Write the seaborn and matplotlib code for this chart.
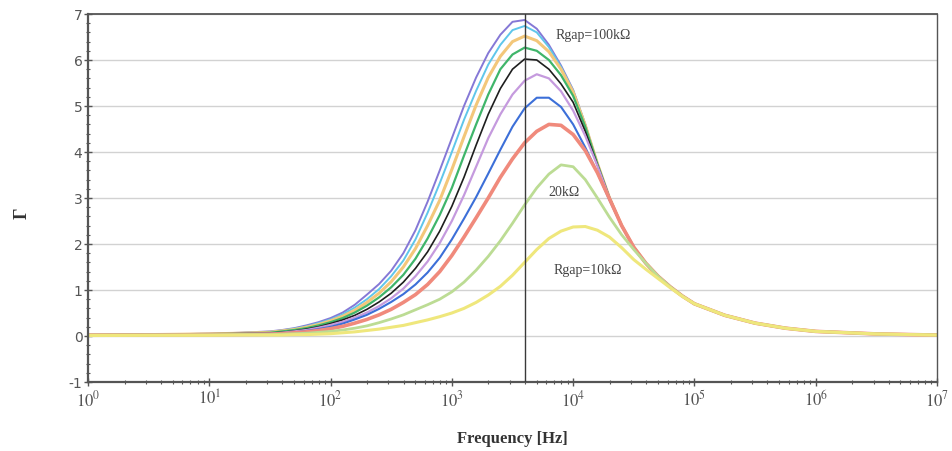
import matplotlib
matplotlib.use("Agg")
import matplotlib.pyplot as plt
import pandas as pd
import seaborn as sns
from matplotlib.ticker import FixedLocator, LogLocator, MultipleLocator, NullFormatter, FixedFormatter

# ---------------- data ----------------
freq_hz = [1, 3.162, 10, 17.78,
           31.62, 39.81, 50.12, 63.10, 79.43, 100, 125.9, 158.5, 199.5, 251.2,
           316.2, 398.1, 501.2, 631.0, 794.3, 1000, 1259, 1585, 1995, 2512,
           3162, 3981, 5012, 6310, 7943, 10000, 12589, 15849, 19953, 25119,
           31623, 39811, 50119, 63096, 79433, 100000,
           177828, 316228, 562341, 1000000, 3162278, 10000000]

rgap_labels = ["100kΩ", "90kΩ", "80kΩ", "70kΩ", "60kΩ", "50kΩ", "40kΩ", "30kΩ", "20kΩ", "10kΩ"]

gamma_100k = [0.02, 0.03, 0.05, 0.07,
              0.10, 0.13, 0.17, 0.23, 0.30, 0.39, 0.51, 0.68, 0.90, 1.13,
              1.42, 1.80, 2.30, 2.92, 3.60, 4.30, 5.00, 5.62, 6.15, 6.55,
              6.83, 6.87, 6.68, 6.33, 5.88, 5.35, 4.60, 3.75, 3.00, 2.40,
              1.93, 1.58, 1.30, 1.07, 0.87, 0.70,
              0.45, 0.28, 0.17, 0.10, 0.045, 0.02]
gamma_90k = [0.02, 0.03, 0.05, 0.065,
             0.09, 0.12, 0.16, 0.21, 0.28, 0.36, 0.47, 0.62, 0.80, 1.02,
             1.30, 1.64, 2.10, 2.68, 3.32, 4.00, 4.70, 5.33, 5.90, 6.33,
             6.65, 6.74, 6.60, 6.28, 5.85, 5.33, 4.60, 3.75, 3.00, 2.40,
             1.93, 1.58, 1.30, 1.07, 0.87, 0.70,
             0.45, 0.28, 0.17, 0.10, 0.045, 0.02]
gamma_80k = [0.02, 0.03, 0.045, 0.06,
             0.08, 0.11, 0.14, 0.19, 0.25, 0.33, 0.43, 0.56, 0.73, 0.93,
             1.18, 1.50, 1.90, 2.40, 2.95, 3.62, 4.33, 5.02, 5.62, 6.08,
             6.40, 6.52, 6.42, 6.18, 5.80, 5.30, 4.58, 3.75, 3.00, 2.40,
             1.93, 1.58, 1.30, 1.07, 0.87, 0.70,
             0.45, 0.28, 0.17, 0.10, 0.045, 0.02]
gamma_70k = [0.02, 0.03, 0.04, 0.055,
             0.07, 0.10, 0.13, 0.17, 0.23, 0.30, 0.39, 0.51, 0.66, 0.84,
             1.06, 1.33, 1.68, 2.12, 2.63, 3.22, 3.92, 4.60, 5.25, 5.80,
             6.12, 6.27, 6.20, 6.00, 5.67, 5.22, 4.55, 3.74, 3.00, 2.40,
             1.93, 1.58, 1.30, 1.07, 0.87, 0.70,
             0.45, 0.28, 0.17, 0.10, 0.045, 0.02]
gamma_60k = [0.02, 0.025, 0.04, 0.05,
             0.06, 0.08, 0.11, 0.15, 0.20, 0.27, 0.35, 0.45, 0.58, 0.74,
             0.93, 1.17, 1.47, 1.83, 2.28, 2.82, 3.45, 4.15, 4.82, 5.38,
             5.80, 6.02, 6.00, 5.80, 5.48, 5.08, 4.45, 3.72, 3.00, 2.40,
             1.93, 1.58, 1.30, 1.07, 0.87, 0.70,
             0.45, 0.28, 0.17, 0.10, 0.045, 0.02]
gamma_50k = [0.02, 0.025, 0.035, 0.045,
             0.05, 0.07, 0.10, 0.13, 0.18, 0.24, 0.31, 0.40, 0.51, 0.65,
             0.82, 1.03, 1.30, 1.62, 2.02, 2.50, 3.06, 3.68, 4.30, 4.82,
             5.25, 5.55, 5.69, 5.60, 5.32, 4.90, 4.35, 3.70, 3.00, 2.40,
             1.93, 1.58, 1.30, 1.07, 0.87, 0.70,
             0.45, 0.28, 0.17, 0.10, 0.045, 0.02]
gamma_40k = [0.02, 0.025, 0.035, 0.04,
             0.05, 0.06, 0.08, 0.11, 0.15, 0.20, 0.27, 0.36, 0.46, 0.59,
             0.74, 0.91, 1.12, 1.38, 1.70, 2.10, 2.55, 3.02, 3.53, 4.05,
             4.55, 4.95, 5.18, 5.18, 4.98, 4.60, 4.10, 3.55, 2.95, 2.40,
             1.93, 1.58, 1.30, 1.07, 0.87, 0.70,
             0.45, 0.28, 0.17, 0.10, 0.045, 0.02]
gamma_30k = [0.02, 0.02, 0.03, 0.035,
             0.04, 0.05, 0.07, 0.09, 0.12, 0.16, 0.21, 0.28, 0.36, 0.46,
             0.58, 0.73, 0.90, 1.12, 1.40, 1.75, 2.15, 2.57, 3.00, 3.45,
             3.85, 4.20, 4.45, 4.60, 4.58, 4.38, 4.03, 3.55, 2.98, 2.40,
             1.93, 1.58, 1.30, 1.07, 0.87, 0.70,
             0.45, 0.28, 0.17, 0.10, 0.045, 0.02]
gamma_20k = [0.02, 0.02, 0.025, 0.03,
             0.03, 0.04, 0.05, 0.06, 0.08, 0.10, 0.13, 0.17, 0.22, 0.29,
             0.37, 0.46, 0.57, 0.68, 0.80, 0.96, 1.17, 1.43, 1.73, 2.07,
             2.45, 2.85, 3.22, 3.52, 3.72, 3.68, 3.40, 3.00, 2.58, 2.20,
             1.88, 1.58, 1.30, 1.07, 0.87, 0.70,
             0.45, 0.28, 0.17, 0.10, 0.045, 0.02]
gamma_10k = [0.01, 0.015, 0.015, 0.02,
             0.02, 0.02, 0.03, 0.03, 0.04, 0.05, 0.07, 0.09, 0.12, 0.15,
             0.19, 0.23, 0.29, 0.35, 0.42, 0.50, 0.60, 0.73, 0.89, 1.08,
             1.32, 1.60, 1.88, 2.12, 2.28, 2.37, 2.38, 2.30, 2.15, 1.92,
             1.66, 1.45, 1.25, 1.05, 0.86, 0.70,
             0.45, 0.28, 0.17, 0.10, 0.045, 0.02]

series = [gamma_100k, gamma_90k, gamma_80k, gamma_70k, gamma_60k,
          gamma_50k, gamma_40k, gamma_30k, gamma_20k, gamma_10k]

marker_freq = 4000
x_tick_values = [1, 10, 100, 1000, 10000, 100000, 1000000, 10000000]
x_tick_labels = [r"$10^{0}$", r"$10^{1}$", r"$10^{2}$", r"$10^{3}$", r"$10^{4}$",
                 r"$10^{5}$", r"$10^{6}$", r"$10^{7}$"]
y_tick_values = [-1, 0, 1, 2, 3, 4, 5, 6, 7]

# ---------------- styling ----------------
line_colors = ["#8578d6", "#5fc6ea", "#f3c77a", "#3fb56a", "#1e1e1e",
               "#c59ade", "#3c6fd8", "#f08a7c", "#bcdc94", "#efe77c"]
line_widths = [1.4, 1.4, 2.2, 1.6, 1.2, 1.6, 1.5, 2.6, 2.0, 2.2]

sns.set_theme(style="white")
plt.rcParams["font.family"] = ["DejaVu Sans"]
plt.rcParams["mathtext.fontset"] = "stix"
plt.rcParams["axes.unicode_minus"] = False

rows = []
for lab, vals in zip(rgap_labels, series):
    for f, v in zip(freq_hz, vals):
        rows.append((lab, f, v))
df = pd.DataFrame(rows, columns=["Rgap", "Frequency", "Gamma"])

fig = plt.figure(figsize=(9.52, 4.52), dpi=100)
ax = fig.add_axes([88 / 952, 1 - 383 / 452, (937 - 88) / 952, (383 - 15) / 452])

sns.lineplot(data=df, x="Frequency", y="Gamma", hue="Rgap", hue_order=rgap_labels,
             palette=line_colors, ax=ax, legend=False, sort=False, estimator=None)
for ln, lw in zip(ax.lines, line_widths):
    ln.set_linewidth(lw)
    ln.set_solid_joinstyle("round")

ax.set_xscale("log")
ax.set_xlim(1, 1e7)
ax.set_ylim(-1, 7)

ax.axvline(marker_freq, color="#3a3a3a", lw=1.0, zorder=5)

ax.yaxis.grid(True, color="#d2d2d2", lw=1.0)
ax.xaxis.grid(False)
ax.set_axisbelow(True)

ax.xaxis.set_major_locator(FixedLocator(x_tick_values))
ax.xaxis.set_major_formatter(FixedFormatter(x_tick_labels))
ax.xaxis.set_minor_locator(LogLocator(base=10, subs=range(2, 10), numticks=100))
ax.xaxis.set_minor_formatter(NullFormatter())
ax.yaxis.set_major_locator(FixedLocator(y_tick_values))
ax.yaxis.set_minor_locator(MultipleLocator(0.2))

ax.tick_params(axis="both", which="major", direction="inout", length=6, width=1,
               color="#555555", labelcolor="#555555")
ax.tick_params(axis="both", which="minor", direction="inout", length=3, width=0.8,
               color="#555555")
ax.tick_params(axis="x", which="major", labelsize=12, pad=2)
ax.tick_params(axis="y", which="major", labelsize=10, pad=1)
ax.tick_params(left=True, bottom=True, which="both")

for side, lw in [("left", 1.6), ("bottom", 1.6), ("top", 1.3), ("right", 1.0)]:
    ax.spines[side].set_visible(True)
    ax.spines[side].set_color("#555555")
    ax.spines[side].set_linewidth(lw)

ax.set_xlabel("Frequency [Hz]", fontfamily="Liberation Serif", fontweight="bold",
              fontsize=12, color="#333333")
ax.xaxis.set_label_coords(0.5, -0.13)
ax.set_ylabel("Γ", fontfamily="Liberation Serif", fontweight="bold",
              fontsize=13, color="#333333")
ax.yaxis.set_label_coords(-0.068, 0.46)

ann_font = dict(fontfamily="Liberation Serif", fontsize=10, color="#444444", va="center", ha="left")
ax.text(7.2e3, 6.55, "Rgap=100kΩ", **ann_font)
ax.text(6.3e3, 3.15, "20kΩ", **ann_font)
ax.text(6.9e3, 1.45, "Rgap=10kΩ", **ann_font)

fig.savefig("out.png", dpi=100)
